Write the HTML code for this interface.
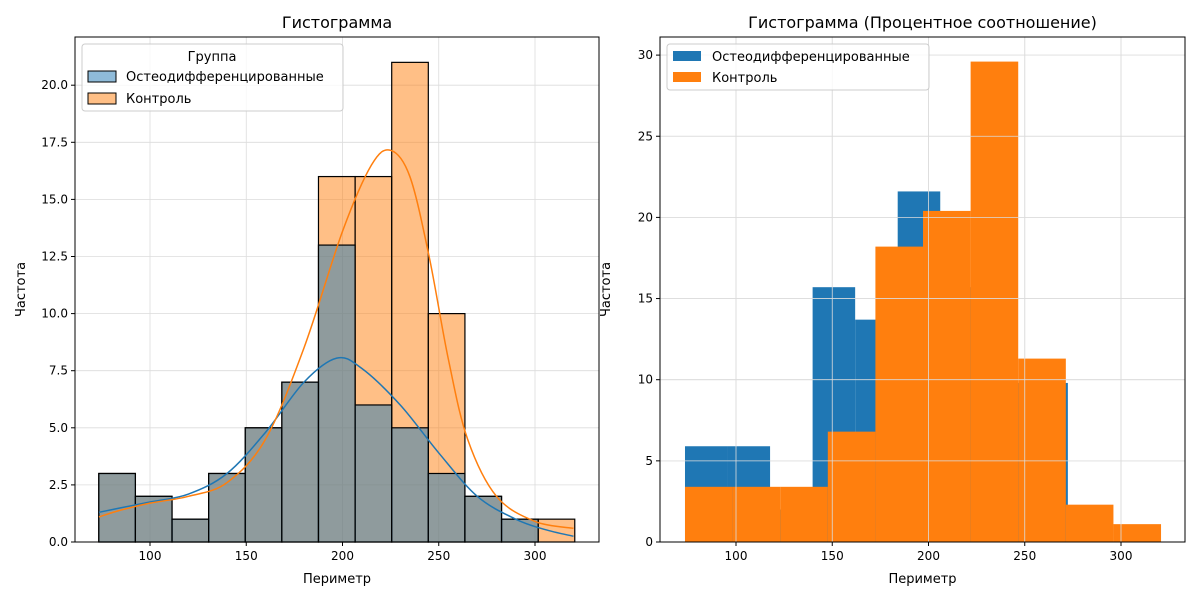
<!DOCTYPE html>
<html><head><meta charset="utf-8"><style>
body{margin:0;background:#fff;font-family:"DejaVu Sans","Liberation Sans",sans-serif;}
svg text{font-family:"DejaVu Sans","Liberation Sans",sans-serif;fill:#000;}
</style></head><body>
<svg id="s" width="1200" height="600"></svg>
<script>
// Left chart data
const leftStart = 73.4, leftBinW = 19.02;
const leftBlue = [3,2,1,3,5,7,13,6,5,3,2,1,0];
const leftOrange = [3,2,1,3,5,7,16,16,21,10,2,1,1];
const leftYTicks = [0,2.5,5,7.5,10,12.5,15,17.5,20];
const xTickVals = [100,150,200,250,300];
const kdeBlueX = [73.5,85,100,120,140,160,180,197,210,230,250,270,290,305,320];
const kdeBlueY = [1.3,1.5,1.75,2.1,3.0,4.8,7.0,8.05,7.6,6.0,3.9,2.0,1.0,0.55,0.25];
const kdeOrangeX = [73.5,85,100,120,140,160,180,200,215,225,235,245,255,265,280,300,320];
const kdeOrangeY = [1.1,1.4,1.7,2.0,2.6,4.5,8.5,13.6,16.5,17.15,16.0,12.5,8.0,4.5,2.0,0.9,0.6];
// Right chart data
const rightStart = 73.5;
const rightBlueW = 22.1;
const rightBlue = [5.9,5.9,2.0,15.7,13.7,21.6,15.7,9.8,9.8];
const rightOrangeW = 24.73;
const rightOrange = [3.4,3.4,3.4,6.8,18.2,20.4,29.6,11.3,2.3,1.1];
const rightYTicks = [0,5,10,15,20,25,30];

const NS="http://www.w3.org/2000/svg", svg=document.getElementById('s');
function mk(t,a,p){const e=document.createElementNS(NS,t);for(const k in a)e.setAttribute(k,a[k]);(p||svg).appendChild(e);return e;}
function txt(x,y,s,size,anchor,p){const e=mk('text',{x:x,y:y,'font-size':size,'text-anchor':anchor||'middle'},p);e.textContent=s;return e;}
function axes(L,R,T,B,xmin,xmax,ymin,ymax){
  return {x:v=>L+(v-xmin)/(xmax-xmin)*(R-L), y:v=>B-(v-ymin)/(ymax-ymin)*(B-T)};
}
function spline(pts){
  let d='M'+pts[0][0]+','+pts[0][1];
  for(let i=0;i<pts.length-1;i++){
    const p0=pts[i-1]||pts[i],p1=pts[i],p2=pts[i+1],p3=pts[i+2]||p2;
    const c1x=p1[0]+(p2[0]-p0[0])/6,c1y=p1[1]+(p2[1]-p0[1])/6;
    const c2x=p2[0]-(p3[0]-p1[0])/6,c2y=p2[1]-(p3[1]-p1[1])/6;
    d+=` C${c1x},${c1y} ${c2x},${c2y} ${p2[0]},${p2[1]}`;
  }
  return d;
}
function frame(g,L,R,T,B,sx,sy,yt){
  yt.forEach(v=>{const y=sy(v);
    const gl=mk('line',{x1:L,x2:R,y1:y,y2:y,stroke:'#dcdcdc','stroke-width':0.8},g);
    
  });
  xTickVals.forEach(v=>{const x=sx(v);
    const gl=mk('line',{x1:x,x2:x,y1:T,y2:B,stroke:'#dcdcdc','stroke-width':0.8},g);
    
  });
}
function ticks(g,L,R,T,B,sx,sy,yt,fmt,title){
  mk('rect',{x:L,y:T,width:R-L,height:B-T,fill:'none',stroke:'#000','stroke-width':1},g);
  yt.forEach(v=>{const y=sy(v);mk('line',{x1:L-4,x2:L,y1:y,y2:y,stroke:'#000'},g);
    const t=txt(L-7,y+4,fmt(v),12,'end',g);
    });
  xTickVals.forEach(v=>{const x=sx(v);mk('line',{x1:x,x2:x,y1:B,y2:B+4,stroke:'#000'},g);
    const t=txt(x,B+18,String(v),12,'middle',g);
    });
  const tt=txt((L+R)/2,T-9,title,16,'middle',g);
  
  const xl=txt((L+R)/2,B+41,'Периметр',13,'middle',g);
  
  const yl=txt(0,0,'Частота',13,'middle',g);
  yl.setAttribute('transform',`translate(${L-50},${(T+B)/2}) rotate(-90)`);
  
}

// LEFT
{const L=75,R=599,T=37,B=542;
 const xmin=(75-150)/1.925+100, xmax=(599-150)/1.925+100;
 const ymax=(542-37)/(57.1/2.5);
 const A=axes(L,R,T,B,xmin,xmax,0,ymax), sx=A.x, sy=A.y;
 const g=mk('g',{});
 frame(g,L,R,T,B,sx,sy,leftYTicks);
 leftOrange.forEach((v,i)=>{if(!v)return;const x0=sx(leftStart+i*leftBinW),x1=sx(leftStart+(i+1)*leftBinW);
   const r=mk('rect',{x:x0,y:sy(v),width:x1-x0,height:sy(0)-sy(v),fill:'rgba(255,127,14,0.5)',stroke:'#000','stroke-width':1.2},g);
   });
 leftBlue.forEach((v,i)=>{if(!v)return;const x0=sx(leftStart+i*leftBinW),x1=sx(leftStart+(i+1)*leftBinW);
   const r=mk('rect',{x:x0,y:sy(v),width:x1-x0,height:sy(0)-sy(v),fill:'rgba(31,119,180,0.5)',stroke:'#000','stroke-width':1.2},g);
   });
 const pb=mk('path',{d:spline(kdeBlueX.map((x,i)=>[sx(x),sy(kdeBlueY[i])])),fill:'none',stroke:'#1f77b4','stroke-width':1.5},g);
 
 const po=mk('path',{d:spline(kdeOrangeX.map((x,i)=>[sx(x),sy(kdeOrangeY[i])])),fill:'none',stroke:'#ff7f0e','stroke-width':1.5},g);
 
 ticks(g,L,R,T,B,sx,sy,leftYTicks,v=>v.toFixed(1),'Гистограмма');
 const lg=mk('g',{},g);
 mk('rect',{x:82,y:44,width:261,height:67,rx:3,fill:'rgba(255,255,255,0.8)',stroke:'#ccc'},lg);
 txt(212,61,'Группа',13,'middle',lg);
 mk('rect',{x:88,y:71,width:28,height:11,fill:'rgba(31,119,180,0.5)',stroke:'#000'},lg);
 txt(126,81,'Остеодифференцированные',13,'start',lg);
 mk('rect',{x:88,y:93,width:28,height:11,fill:'rgba(255,127,14,0.5)',stroke:'#000'},lg);
 txt(126,103,'Контроль',13,'start',lg);
}
// RIGHT
{const L=660,R=1185,T=37,B=542;
 const xmin=(660-736)/1.925+100, xmax=(1185-736)/1.925+100;
 const ymax=(542-37)/16.23;
 const A=axes(L,R,T,B,xmin,xmax,0,ymax), sx=A.x, sy=A.y;
 const g=mk('g',{});
 frame(g,L,R,T,B,sx,sy,rightYTicks);
 rightBlue.forEach((v,i)=>{const x0=sx(rightStart+i*rightBlueW),x1=sx(rightStart+(i+1)*rightBlueW);
   const r=mk('rect',{x:x0,y:sy(v),width:x1-x0,height:sy(0)-sy(v),fill:'#1f77b4'},g);
   });
 rightOrange.forEach((v,i)=>{const x0=sx(rightStart+i*rightOrangeW),x1=sx(rightStart+(i+1)*rightOrangeW);
   const r=mk('rect',{x:x0,y:sy(v),width:x1-x0,height:sy(0)-sy(v),fill:'#ff7f0e'},g);
   });
 frame(g,L,R,T,B,sx,sy,rightYTicks);
 ticks(g,L,R,T,B,sx,sy,rightYTicks,v=>String(v),'Гистограмма (Процентное соотношение)');
 const lg=mk('g',{},g);
 mk('rect',{x:667,y:44,width:262,height:46,rx:3,fill:'rgba(255,255,255,0.8)',stroke:'#ccc'},lg);
 mk('rect',{x:673,y:51,width:28,height:10,fill:'#1f77b4'},lg);
 txt(712,61,'Остеодифференцированные',13,'start',lg);
 mk('rect',{x:673,y:72,width:28,height:10,fill:'#ff7f0e'},lg);
 txt(712,82,'Контроль',13,'start',lg);
}
</script>
</body></html>
